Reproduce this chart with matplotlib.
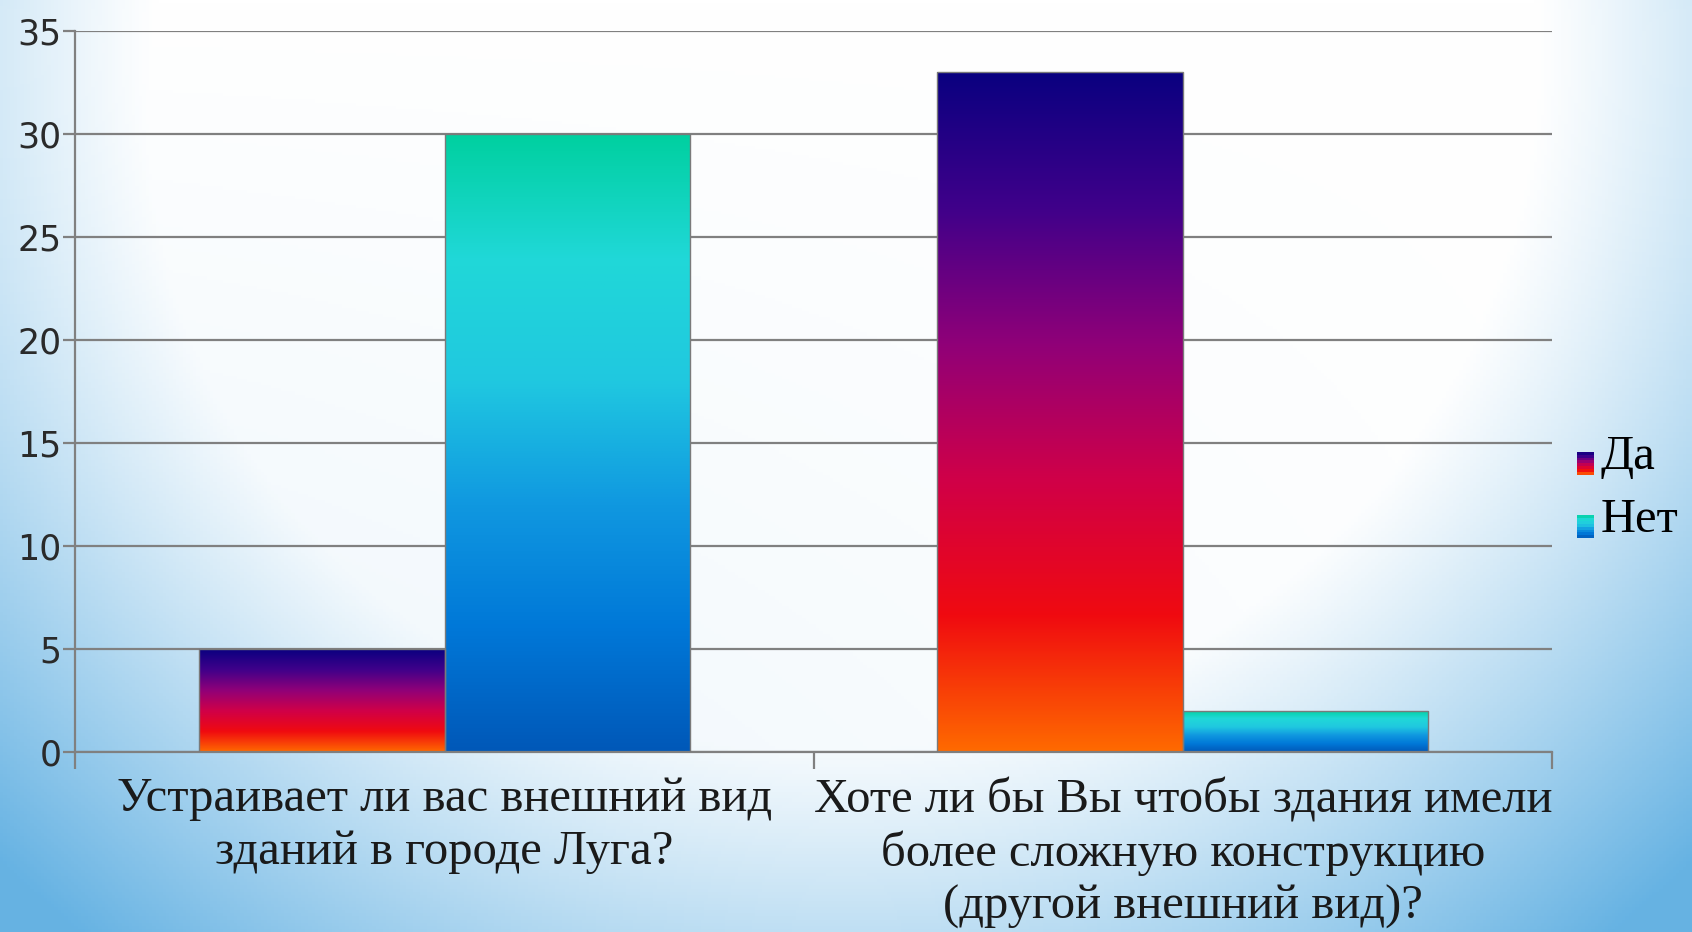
import numpy as np
import matplotlib
matplotlib.use("Agg")
import matplotlib.pyplot as plt
from matplotlib.colors import LinearSegmentedColormap
from matplotlib.patches import Rectangle
from matplotlib.legend_handler import HandlerBase

categories = ["Устраивает ли вас внешний вид\nзданий в городе Луга?",
              "Хоте ли бы Вы чтобы здания имели\nболее сложную конструкцию\n(другой внешний вид)?"]
series_names = ["Да", "Нет"]
da = [5, 33]
net = [30, 2]
yticks = [0, 5, 10, 15, 20, 25, 30, 35]

# bottom -> top colours of each bar gradient
da_cmap = LinearSegmentedColormap.from_list(
    "da", ["#ff6a00", "#f00a10", "#d00048", "#900078", "#40008a", "#0a0080"])
net_cmap = LinearSegmentedColormap.from_list(
    "net", ["#0058b8", "#0078d8", "#1098e0", "#20c8e0", "#20d8d8", "#00d0a0"])

fig = plt.figure(figsize=(16.92, 9.32), dpi=100)

# soft light-blue backdrop, stronger toward the lower corners
bg = fig.add_axes([0, 0, 1, 1], zorder=-5)
yy, xx = np.mgrid[0:1:300j, 0:1:500j]
d = np.sqrt(((xx - 0.5) / 0.6) ** 2 + ((yy - 0.05) / 1.05) ** 2)
t = np.clip((d - 0.68) / 0.5, 0, 1) ** 1.1
t = np.maximum(t, 0.15 * (1 - xx) * yy)
white = np.array([1.0, 1.0, 1.0])
blue = np.array([0.40, 0.70, 0.89])
img = white * (1 - t[..., None]) + blue * t[..., None]
bg.imshow(img, extent=(0, 1, 0, 1), aspect="auto", origin="upper")
bg.axis("off")

ax = fig.add_axes([0.0446, 0.1931, 0.8726, 0.7733])
ax.patch.set_alpha(0)

x = np.arange(len(categories))
w = 0.3325
grad = np.linspace(0, 1, 256).reshape(-1, 1)

for vals, off, cmap in [(da, -w / 2, da_cmap), (net, w / 2, net_cmap)]:
    bars = ax.bar(x + off, vals, width=w, facecolor="none", edgecolor="#7a7a7a",
                  linewidth=1.0, zorder=3)
    for b in bars:
        x0, y0 = b.get_x(), b.get_y()
        im = ax.imshow(grad, cmap=cmap, origin="lower", aspect="auto",
                       extent=(x0, x0 + b.get_width(), y0, y0 + b.get_height()), zorder=2)
        im.set_clip_path(b)

ax.set_xlim(-0.5, len(categories) - 0.5)
ax.set_ylim(0, 35)
ax.set_yticks(yticks)
ax.yaxis.grid(True, color="#808080", linewidth=1.6, zorder=1)
ax.set_axisbelow(True)

for s in ["top", "right"]:
    ax.spines[s].set_visible(False)
for s in ["left", "bottom"]:
    ax.spines[s].set_color("#808080")
    ax.spines[s].set_linewidth(1.6)

ax.tick_params(axis="y", length=9, width=1.6, color="#808080", labelsize=25,
               labelcolor="#2a2a2a", pad=1)
for lab in ax.get_yticklabels():
    lab.set_family("DejaVu Sans")

ax.set_xticks(x)
ax.set_xticklabels(categories, family=["Liberation Serif"], fontsize=35, color="#1a1a1a",
                   linespacing=1.25)
ax.set_xticks(np.arange(-0.5, len(categories)), minor=True)
ax.tick_params(axis="x", which="major", length=0, pad=18)
ax.tick_params(axis="x", which="minor", length=12, width=1.6, color="#808080")


class GradHandler(HandlerBase):
    def __init__(self, cmap):
        super().__init__()
        self.cmap = cmap

    def create_artists(self, legend, orig, xd, yd, width, height, fontsize, trans):
        n = 8
        arts = []
        for i in range(n):
            r = Rectangle((xd, yd + height * i / n), width, height / n,
                          facecolor=self.cmap((i + 0.5) / n), edgecolor="none",
                          transform=trans)
            arts.append(r)
        return arts


h1 = Rectangle((0, 0), 1, 1)
h2 = Rectangle((0, 0), 1, 1)
leg = ax.legend([h1, h2], series_names, loc="center left", bbox_to_anchor=(1.017, 0.366),
                frameon=False, prop={"family": ["Liberation Serif"], "size": 35},
                borderpad=0, borderaxespad=0,
                handlelength=0.34, handleheight=0.34, handletextpad=0.15, labelspacing=0.4,
                handler_map={h1: GradHandler(da_cmap), h2: GradHandler(net_cmap)})

fig.savefig("out.png", dpi=100)
